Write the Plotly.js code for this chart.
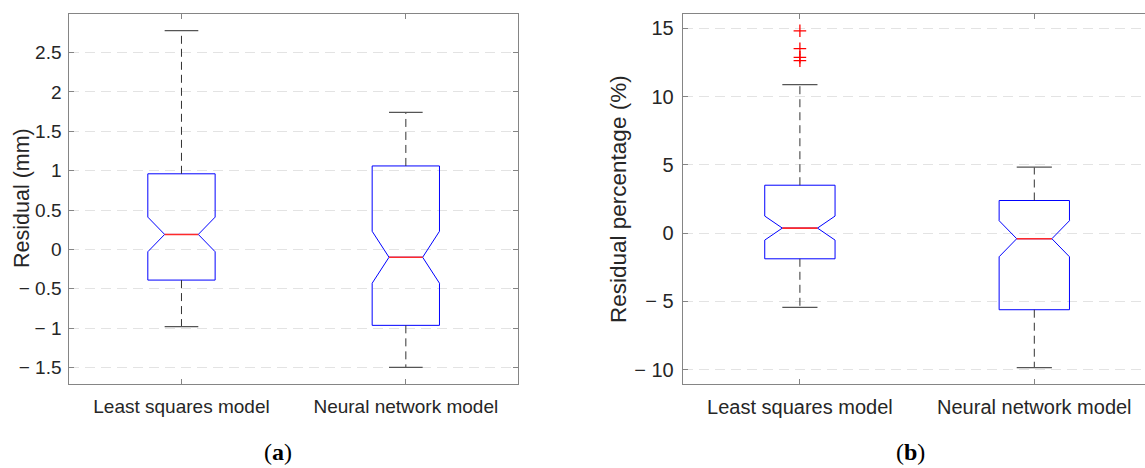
<!DOCTYPE html>
<html>
<head>
<meta charset="utf-8">
<script src="https://cdn.plot.ly/plotly-3.0.1.min.js"></script>
<style>
  html, body { margin: 0; padding: 0; background: #fff; overflow: hidden; }
  #chart { width: 1160px; height: 468px; }
</style>
</head>
<body>
<div id="chart"></div>
<script>
// ---------- data ----------
var categories = ["Least squares model", "Neural network model"];

// panel (a): Residual (mm)
var aLowerWhisker = [-0.98, -1.50];
var aQ1           = [-0.39, -0.965];
var aMedian       = [0.19, -0.10];
var aQ3           = [0.96, 1.06];
var aUpperWhisker = [2.78, 1.74];
var aNotchHalf    = [0.22, 0.33];
var aOutliers     = [[], []];
var aTickVals = [-1.5, -1, -0.5, 0, 0.5, 1, 1.5, 2, 2.5];
var aTickText = ["\u2212 1.5", "\u2212 1", "\u2212 0.5", "0", "0.5", "1", "1.5", "2", "2.5"];

// panel (b): Residual percentage (%)
var bLowerWhisker = [-5.44, -9.85];
var bQ1           = [-1.88, -5.61];
var bMedian       = [0.37, -0.41];
var bQ3           = [3.51, 2.39];
var bUpperWhisker = [10.87, 4.83];
var bNotchHalf    = [0.88, 1.32];
var bOutliers     = [[14.82, 13.51, 12.88, 12.63], []];
var bTickVals = [-10, -5, 0, 5, 10, 15];
var bTickText = ["\u2212 10", "\u2212 5", "0", "5", "10", "15"];

var yTitleA = "Residual (mm)";
var yTitleB = "Residual percentage (%)";
var captionA = "(<b>a</b>)";
var captionB = "(<b>b</b>)";

// ---------- styling ----------
var BOX_W = 0.30;          // box width in category units
var HALF = BOX_W / 2;
var MED_HALF = HALF * 0.5; // notch narrows to half width at the median
var CAP_HALF = HALF * 0.5;
var TXT = "#262626";
var FRAME = "#858585";

function buildPanel(xa, ya, lw, q1, med, q3, uw, nh, outl) {
  var pos = categories.map(function (c, i) { return i; });
  var traces = [];
  traces.push({
    type: "box", xaxis: xa, yaxis: ya,
    x: pos, q1: q1, median: med, q3: q3,
    lowerfence: q1, upperfence: q3,
    notched: true, notchspan: nh, notchwidth: 0.25,
    width: BOX_W, whiskerwidth: 0,
    boxpoints: false,
    line: { color: "#0000ff", width: 1 },
    fillcolor: "rgba(0,0,0,0)",
    hoverinfo: "skip"
  });
  // dashed whiskers
  var wx = [], wy = [];
  pos.forEach(function (p, i) {
    wx.push(p, p, null, p, p, null);
    wy.push(q3[i], uw[i], null, q1[i], lw[i], null);
  });
  traces.push({
    type: "scatter", mode: "lines", xaxis: xa, yaxis: ya,
    x: wx, y: wy, line: { color: "#333333", width: 1, dash: "8px,5px" },
    hoverinfo: "skip"
  });
  // whisker caps
  var cx = [], cy = [];
  pos.forEach(function (p, i) {
    cx.push(p - CAP_HALF, p + CAP_HALF, null, p - CAP_HALF, p + CAP_HALF, null);
    cy.push(uw[i], uw[i], null, lw[i], lw[i], null);
  });
  traces.push({
    type: "scatter", mode: "lines", xaxis: xa, yaxis: ya,
    x: cx, y: cy, line: { color: "#555555", width: 1.3 },
    hoverinfo: "skip"
  });
  // red medians
  var mx = [], my = [];
  pos.forEach(function (p, i) {
    mx.push(p - MED_HALF, p + MED_HALF, null);
    my.push(med[i], med[i], null);
  });
  traces.push({
    type: "scatter", mode: "lines", xaxis: xa, yaxis: ya,
    x: mx, y: my, line: { color: "#ff2a2a", width: 1.6 },
    hoverinfo: "skip"
  });
  // outliers
  var ox = [], oy = [];
  pos.forEach(function (p, i) {
    outl[i].forEach(function (v) { ox.push(p); oy.push(v); });
  });
  if (ox.length) {
    traces.push({
      type: "scatter", mode: "markers", xaxis: xa, yaxis: ya,
      x: ox, y: oy,
      marker: { symbol: "cross-thin", size: 9, color: "#ff0000",
                line: { color: "#ff0000", width: 1.3 } },
      hoverinfo: "skip"
    });
  }
  return traces;
}

var data = []
  .concat(buildPanel("x", "y", aLowerWhisker, aQ1, aMedian, aQ3, aUpperWhisker, aNotchHalf, aOutliers))
  .concat(buildPanel("x2", "y2", bLowerWhisker, bQ1, bMedian, bQ3, bUpperWhisker, bNotchHalf, bOutliers));

var W = 1160, H = 468;
function px(v) { return v / W; }
function py(v) { return 1 - v / H; }

function xAxis(domain, anchor, fs) {
  return {
    domain: domain, anchor: anchor,
    range: [-0.5, 1.5], tickmode: "array",
    tickvals: categories.map(function (c, i) { return i; }),
    ticktext: categories,
    ticks: "inside", ticklen: 5, tickwidth: 1, tickcolor: FRAME,
    showline: true, linecolor: FRAME, linewidth: 1, mirror: "ticks",
    showgrid: false, zeroline: false, fixedrange: true,
    ticklabelstandoff: 5,
    tickfont: { family: "Liberation Sans, Arial, sans-serif", size: fs, color: TXT }
  };
}
function yAxis(domain, anchor, range, tv, tt, fs, so) {
  return {
    domain: domain, anchor: anchor, range: range,
    tickmode: "array", tickvals: tv, ticktext: tt,
    ticks: "inside", ticklen: 5, tickwidth: 1, tickcolor: FRAME,
    showline: true, linecolor: FRAME, linewidth: 1, mirror: "ticks",
    showgrid: true, gridcolor: "#e3e3e3", gridwidth: 1, griddash: "10px,6px",
    zeroline: false, fixedrange: true,
    ticklabelstandoff: so,
    tickfont: { family: "Liberation Sans, Arial, sans-serif", size: fs, color: TXT }
  };
}

var yDom = [py(384), py(14)];

var layout = {
  width: W, height: H,
  margin: { l: 0, r: 0, t: 0, b: 0, pad: 0 },
  paper_bgcolor: "#ffffff", plot_bgcolor: "#ffffff",
  showlegend: false,
  xaxis: xAxis([px(69.3), px(518)], "y", 19),
  yaxis: yAxis(yDom, "x", [-1.71, 2.99], aTickVals, aTickText, 19, 3),
  xaxis2: xAxis([px(682.7), px(1151.5)], "y2", 20),
  yaxis2: yAxis(yDom, "x2", [-11.05, 16.05], bTickVals, bTickText, 20, 4),
  annotations: [
    { text: yTitleA, xref: "paper", yref: "paper", x: px(22), y: py(198),
      xanchor: "center", yanchor: "middle", textangle: -90, showarrow: false,
      font: { family: "Liberation Sans, Arial, sans-serif", size: 21.5, color: TXT } },
    { text: yTitleB, xref: "paper", yref: "paper", x: px(618), y: py(199),
      xanchor: "center", yanchor: "middle", textangle: -90, showarrow: false,
      font: { family: "Liberation Sans, Arial, sans-serif", size: 22.5, color: TXT } },
    { text: captionA, xref: "paper", yref: "paper", x: px(278), y: py(452),
      xanchor: "center", yanchor: "middle", showarrow: false,
      font: { family: "Liberation Serif, serif", size: 24, color: "#000000" } },
    { text: captionB, xref: "paper", yref: "paper", x: px(910), y: py(452),
      xanchor: "center", yanchor: "middle", showarrow: false,
      font: { family: "Liberation Serif, serif", size: 24, color: "#000000" } }
  ]
};

Plotly.newPlot("chart", data, layout, { displayModeBar: false, staticPlot: true });
</script>
</body>
</html>
